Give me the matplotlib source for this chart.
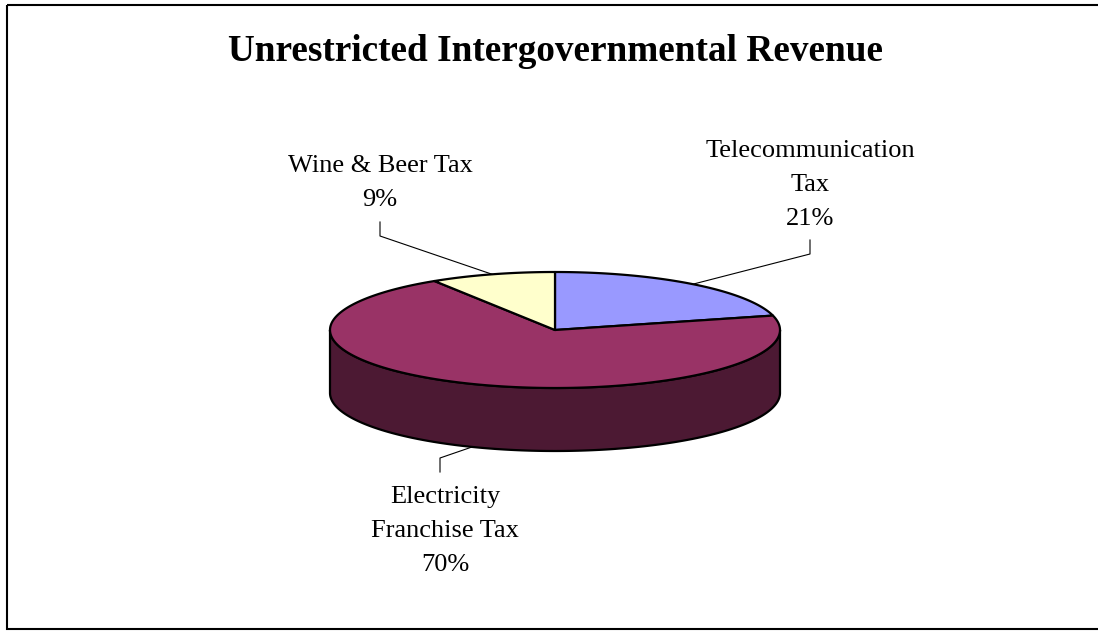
import matplotlib.pyplot as plt
from matplotlib.patches import Polygon, Rectangle
import numpy as np

labels = ['Telecommunication\nTax', 'Electricity\nFranchise Tax', 'Wine & Beer Tax']
values = [21, 70, 9]
colors = ['#9999FF', '#993366', '#FFFFCC']
title = 'Unrestricted Intergovernmental Revenue'

# pie geometry in pixels
cx, cy = 555, 330
rx, ry = 225, 58
depth = 63

# where the label text sits and where the leader line bends
label_pos = [(810, 151), (445, 497), (380, 166)]
bend_pos = [(810, 254), (440, 458), (380, 236)]
line_h = 34

plt.rcParams['font.family'] = ['Liberation Serif', 'DejaVu Serif']

fig = plt.figure(figsize=(10.98, 6.31), dpi=100)
ax = fig.add_axes([0, 0, 1, 1])
ax.set_xlim(0, 1098)
ax.set_ylim(631, 0)
ax.axis('off')

ax.add_patch(Rectangle((7, 5), 1100, 624, fill=False, lw=1.5, ec='black'))

ax.text(555, 61, title, ha='center', va='baseline', fontsize=26.8,
        fontweight='bold')


def pt(t, dz=0):
    return cx + rx * np.cos(t), cy - ry * np.sin(t) + dz


def darker(c, f=0.5):
    c = c.lstrip('#')
    r, g, b = [int(c[i:i + 2], 16) for i in (0, 2, 4)]
    return '#%02x%02x%02x' % (int(r * f), int(g * f), int(b * f))


total = float(sum(values))
fracs = [v / total for v in values]
bounds = np.radians(90 - 360 * np.concatenate([[0], np.cumsum(fracs)]))

# side walls (front half of the pie, angles between pi and 2*pi)
for i in range(len(values)):
    a0, a1 = bounds[i + 1], bounds[i]
    for shift in (0, 2 * np.pi, -2 * np.pi):
        lo = max(a0 + shift, np.pi)
        hi = min(a1 + shift, 2 * np.pi)
        if hi <= lo:
            continue
        t = np.linspace(lo, hi, 200)
        top = [pt(a) for a in t]
        bot = [pt(a, depth) for a in t[::-1]]
        ax.add_patch(Polygon(top + bot, closed=True, fc=darker(colors[i]),
                             ec='black', lw=1.6, joinstyle='round'))

# top faces
for i in range(len(values)):
    t = np.linspace(bounds[i + 1], bounds[i], 200)
    poly = [(cx, cy)] + [pt(a) for a in t]
    ax.add_patch(Polygon(poly, closed=True, fc=colors[i], ec='black', lw=1.6,
                         joinstyle='round'))

# labels and leader lines
for i in range(len(values)):
    mid = (bounds[i] + bounds[i + 1]) / 2
    dz = depth if np.sin(mid) < 0 else 0
    ex, ey = pt(mid, dz)
    bx, by = bend_pos[i]
    lx, ly = label_pos[i]
    lines = labels[i].split('\n') + ['%d%%' % round(fracs[i] * 100)]
    for k, s in enumerate(lines):
        ax.text(lx, ly + k * line_h, s, ha='center', va='center', fontsize=19)
    if by < cy:
        vy = by - 14
    else:
        vy = by + 14
    ax.plot([ex, bx, bx], [ey, by, vy], color='black', lw=0.8)

fig.savefig('out.png', dpi=100)
